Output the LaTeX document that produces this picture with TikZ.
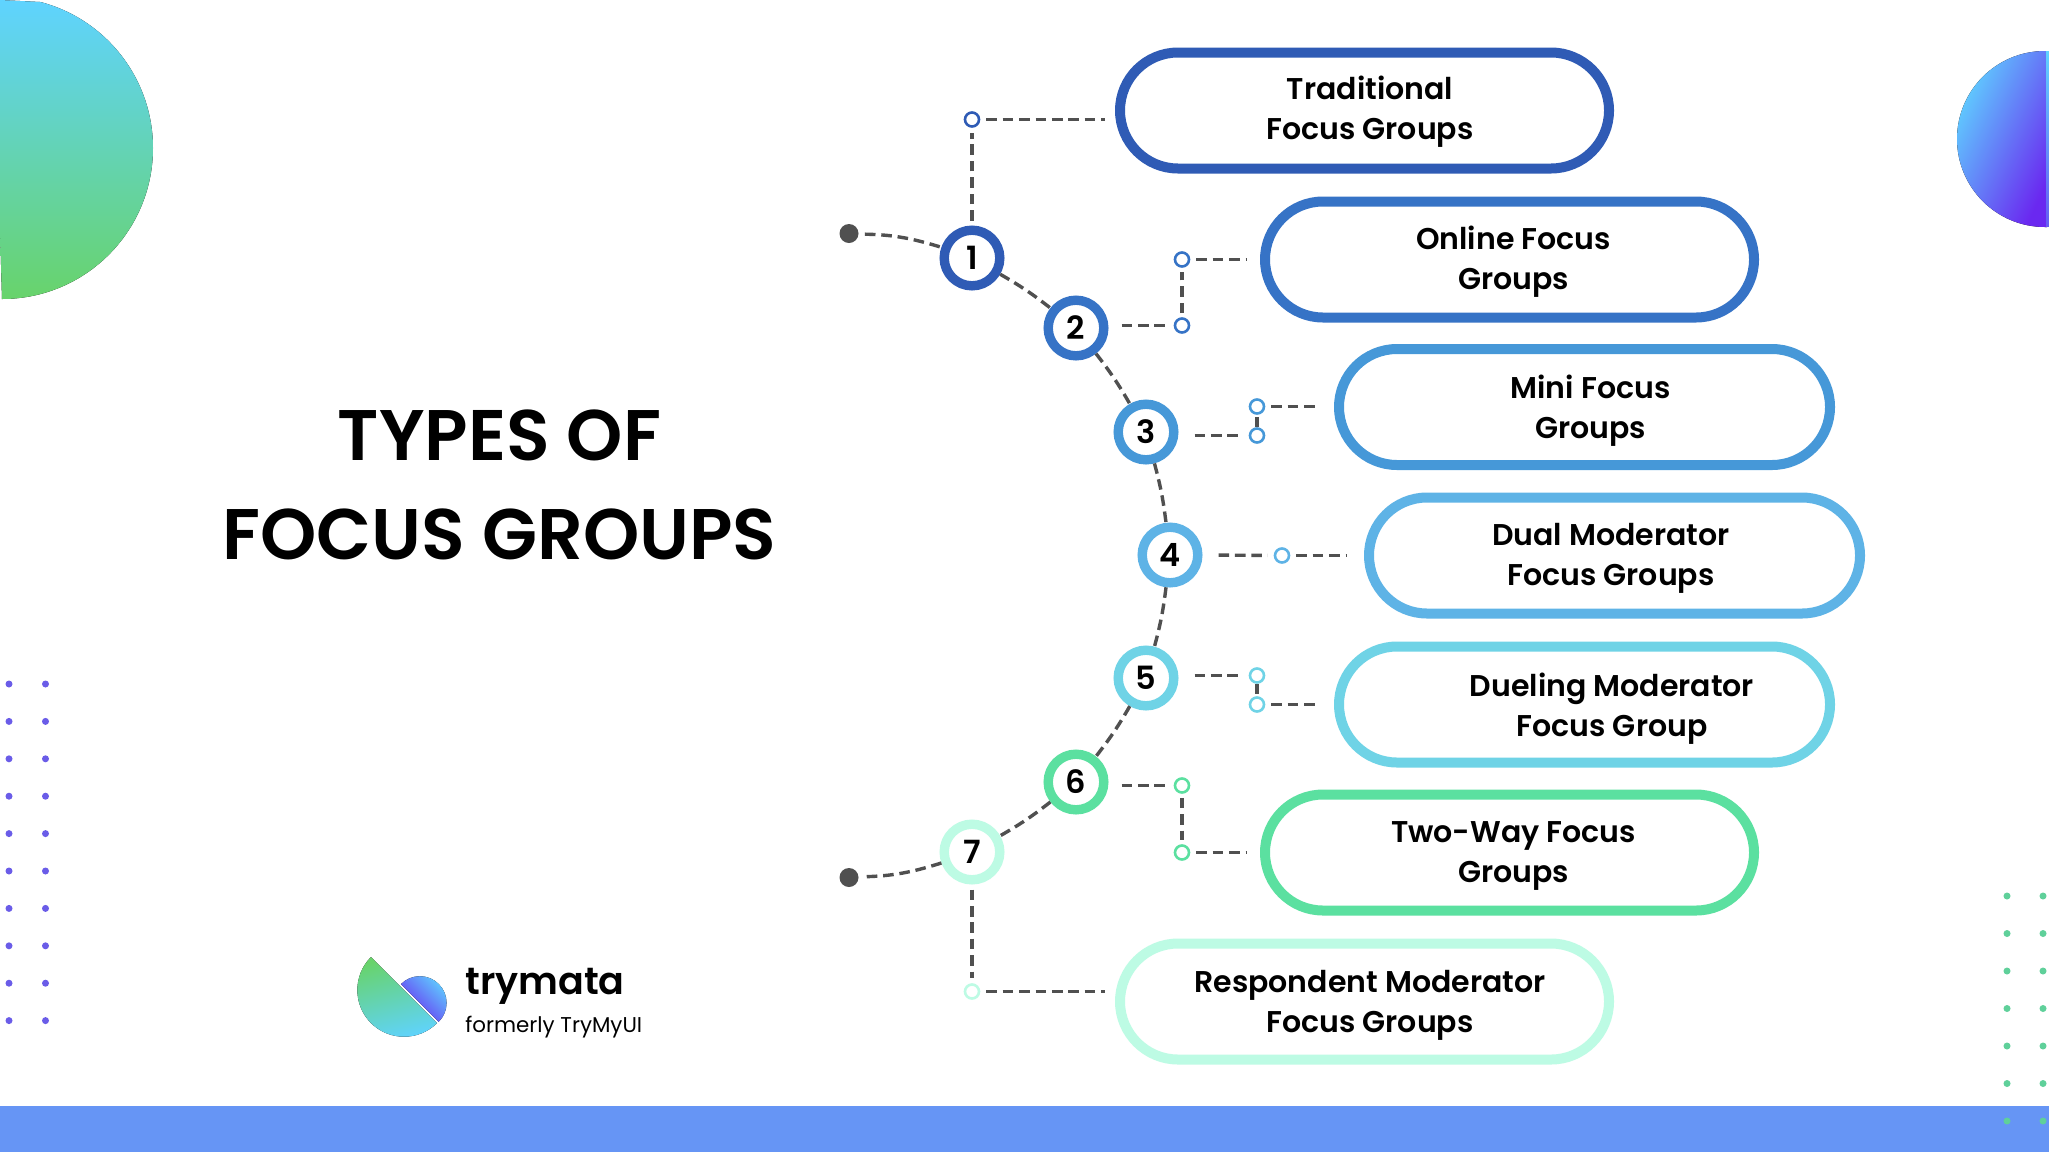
\documentclass[tikz,border=0pt]{standalone}
\usepackage{xcolor}
\usepackage{fontspec}
\setmainfont{Poppins}[BoldFont={Poppins SemiBold}]
\usetikzlibrary{
		calc,
		positioning,
		shapes.misc
	}
\definecolor{cOne}{HTML}{2F5BB5}
\definecolor{cTwo}{HTML}{3673C6}
\definecolor{cThree}{HTML}{4698D8}
\definecolor{cFour}{HTML}{5EB3E6}
\definecolor{cFive}{HTML}{6FD3E6}
\definecolor{cSix}{HTML}{5BE0A0}
\definecolor{cSeven}{HTML}{BDFBE4}
\definecolor{linkgray}{HTML}{505050}
\definecolor{skyblue}{HTML}{5FD3FF}
\definecolor{leafgreen}{HTML}{68D36B}
\definecolor{violet}{HTML}{6A28F0}
\tikzset{
		pill/.style={rounded rectangle, draw=#1, line width=5pt, fill=white,
			minimum height=58pt, inner sep=0pt},
		pilltext/.style={font=\fontsize{15}{20}\selectfont\bfseries, align=center, inner sep=0pt},
		ring/.style={circle, draw=#1, line width=4.7pt, fill=white, minimum size=27.8pt,
			inner sep=0pt, text height=11pt, text depth=0pt, font=\fontsize{16}{16}\selectfont\bfseries},
		tick/.style={circle, draw=#1, line width=1.3pt, fill=white, minimum size=7pt, inner sep=0pt},
		link/.style={draw=linkgray, line width=1.7pt, dash pattern=on 5.3pt off 2.9pt},
		stub/.style={link, shorten >=7pt, shorten <=3pt},
		enddot/.style={circle, fill=linkgray, minimum size=9.5pt, inner sep=0pt}
	}

\begin{document}
\begin{tikzpicture}[x=0.5pt,y=-0.5pt]
          \useasboundingbox (0,0) rectangle (2049,1152);
          \fill[white] (0,0) rectangle (2049,1152);

          % corners and band
          \fill[top color=skyblue, bottom color=leafgreen] (2,299) arc[start angle=90, end angle=-75.2, radius=151] -- (0,0) -- (0,230) -- cycle;
          \fill[top color=skyblue, bottom color=violet, shading angle=65] (2045,51) arc[start angle=-90, end angle=-270, radius=88] -- (2047,227) -- (2047,51) -- cycle;
          \fill[top color=skyblue, bottom color=violet!70!skyblue] (2046,51) rectangle (2049,226);
          \fill[color={rgb,255:red,102;green,149;blue,245}] (0,1105.5) rectangle (2049,1152);
          \foreach \px in {9,45.5}
            \foreach \py in {0,...,9}
              \fill[color={rgb,255:red,106;green,92;blue,232}] (\px,684+37.4*\py) circle[radius=3.5];
          \foreach \px in {2007,2043}
            \foreach \py in {0,...,6}
              \fill[color={rgb,255:red,95;green,208;blue,154}] (\px,896+37.5*\py) circle[radius=3.5];

          % title and logo
          \node[font=\fontsize{35.8}{49.5}\selectfont\bfseries, align=center, inner sep=0pt] (title) at (499.5,484.5) {TYPES OF\\FOCUS GROUPS};
          \fill[top color=leafgreen, bottom color=skyblue, shading angle=15] (371,957) arc[start angle=225, end angle=45, radius=46.7] -- cycle;
          \fill[top color=skyblue, bottom color=violet, shading angle=-45] (401,984) arc[start angle=-135, end angle=45, radius=26.7] -- cycle;
          \node[anchor=base west, font=\fontsize{19}{19}\selectfont\bfseries, inner sep=0pt] (brand) at (465,994) {trymata};
          \node[anchor=base west, font=\fontsize{10.7}{11}\selectfont, inner sep=0pt] (former) at (465,1032) {formerly TryMyUI};

          % pills
          \node[pill=cOne, minimum width=244.5pt] (pill1) at (1364.5,110.5) {};
          \node[pill=cTwo, minimum width=244.5pt] (pill2) at (1509.5,259.5) {};
          \node[pill=cThree, minimum width=245.5pt] (pill3) at (1584.5,407) {};
          \node[pill=cFour, minimum width=245.5pt] (pill4) at (1614.5,555.5) {};
          \node[pill=cFive, minimum width=245.5pt] (pill5) at (1584.5,704.5) {};
          \node[pill=cSix, minimum width=244.5pt] (pill6) at (1509.5,852.5) {};
          \node[pill=cSeven, minimum width=244.5pt] (pill7) at (1364.5,1001.5) {};

          \node[pilltext] (lab1) at (1370,112) {Traditional\\Focus Groups};
          \node[pilltext] (lab2) at (1513.5,262) {Online Focus\\Groups};
          \node[pilltext] (lab3) at (1590.5,411) {Mini Focus\\Groups};
          \node[pilltext] (lab4) at (1611,558.5) {Dual Moderator\\Focus Groups};
          \node[pilltext] (lab5) at (1612,708.5) {Dueling Moderator\\Focus Group};
          \node[pilltext] (lab6) at (1513.5,855.5) {Two-Way Focus\\Groups};
          \node[pilltext] (lab7) at (1370,1005.5) {Respondent Moderator\\Focus Groups};

          % spine
          \node[enddot] (head) at (849,233.5) {};
          \node[enddot] (tail) at (849,877.5) {};
          \node[ring=cOne] (num1) at (972,258) {1};
          \node[ring=cTwo] (num2) at (1076,328) {2};
          \node[ring=cThree] (num3) at (1146,432) {3};
          \node[ring=cFour] (num4) at (1170,555) {4};
          \node[ring=cFive] (num5) at (1146,678) {5};
          \node[ring=cSix] (num6) at (1076,782) {6};
          \node[ring=cSeven] (num7) at (972,852) {7};

          \draw[link, shorten <=3pt] (head) to[bend left=8] (num1);
          \draw[link] (num1) to[bend left=4] (num2);
          \draw[link] (num2) to[bend left=4] (num3);
          \draw[link] (num3) to[bend left=4] (num4);
          \draw[link] (num4) to[bend left=4] (num5);
          \draw[link] (num5) to[bend left=4] (num6);
          \draw[link] (num6) to[bend left=4] (num7);
          \draw[link, shorten >=3pt] (num7) to[bend left=8] (tail);

          % small circles
          \node[tick=cOne] (tick1) at (972,119.5) {};
          \node[tick=cTwo] (tick2a) at (1182,325.5) {};
          \node[tick=cTwo] (tick2b) at (1182,259.5) {};
          \node[tick=cThree] (tick3a) at (1257,435.5) {};
          \node[tick=cThree] (tick3b) at (1257,406.5) {};
          \node[tick=cFour] (tick4) at (1282,555.5) {};
          \node[tick=cFive] (tick5a) at (1257,675.5) {};
          \node[tick=cFive] (tick5b) at (1257,704.5) {};
          \node[tick=cSix] (tick6a) at (1182,785.5) {};
          \node[tick=cSix] (tick6b) at (1182,852.5) {};
          \node[tick=cSeven] (tick7) at (972,991.5) {};

          \draw[link, shorten >=2.5pt, shorten <=2.5pt] (num1) -- (tick1);
          \draw[stub, shorten >=5pt] (tick1) -- (tick1 -| pill1.west);
          \draw[stub, shorten >=3pt, shorten <=6.5pt] (tick2a -| num2.east) -- (tick2a);
          \draw[link, shorten >=2pt, shorten <=2pt] (tick2a) -- (tick2b);
          \draw[stub] (tick2b) -- (tick2b -| pill2.west);
          \draw[stub, shorten >=3pt, shorten <=8pt] (tick3a -| num3.east) -- (tick3a);
          \draw[link] (tick3a) -- (tick3b);
          \draw[stub] (tick3b) -- (tick3b -| pill3.west);
          \draw[stub, shorten >=3pt, shorten <=8pt] (num4.east) -- (tick4);
          \draw[stub, shorten >=9pt] (tick4) -- (tick4 -| pill4.west);
          \draw[stub, shorten >=3pt, shorten <=8pt] (tick5a -| num5.east) -- (tick5a);
          \draw[link] (tick5a) -- (tick5b);
          \draw[stub] (tick5b) -- (tick5b -| pill5.west);
          \draw[stub, shorten >=3pt, shorten <=6.5pt] (tick6a -| num6.east) -- (tick6a);
          \draw[link, shorten >=2pt, shorten <=2pt] (tick6a) -- (tick6b);
          \draw[stub] (tick6b) -- (tick6b -| pill6.west);
          \draw[link, shorten >=2.5pt, shorten <=2.5pt] (num7) -- (tick7);
          \draw[stub, shorten >=5pt] (tick7) -- (tick7 -| pill7.west);
\end{tikzpicture}
\end{document}
